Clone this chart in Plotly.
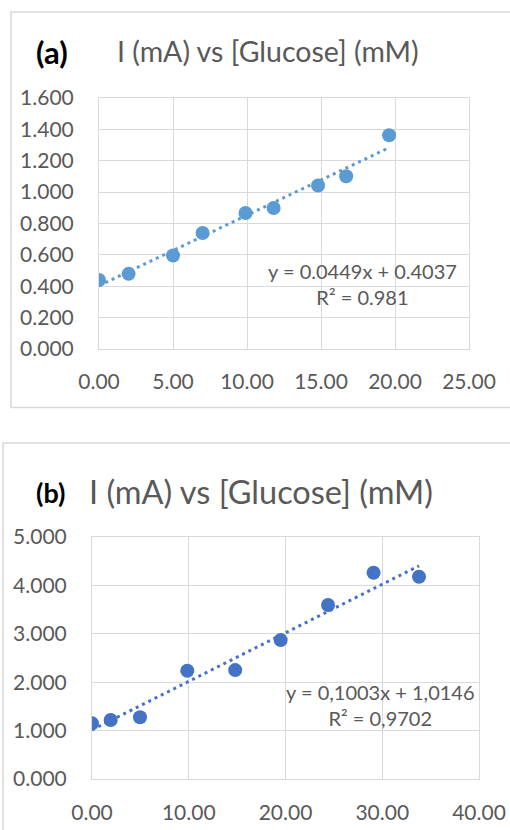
import plotly.graph_objects as go

# Panel (a): current vs glucose concentration
a_glucose = [0, 2, 5, 7, 9.9, 11.8, 14.8, 16.7, 19.6]
a_current = [0.440, 0.479, 0.596, 0.739, 0.867, 0.899, 1.042, 1.101, 1.363]
a_slope, a_intercept, a_r2 = 0.0449, 0.4037, 0.981

# Panel (b): current vs glucose concentration
b_glucose = [0, 1.93, 4.96, 9.85, 14.8, 19.5, 24.4, 29.1, 33.8]
b_current = [1.15, 1.22, 1.275, 2.238, 2.25, 2.87, 3.595, 4.26, 4.18]
b_slope, b_intercept, b_r2 = 0.1003, 1.0146, 0.9702

a_xticks = [0, 5, 10, 15, 20, 25]
a_yticks = [0, 0.2, 0.4, 0.6, 0.8, 1.0, 1.2, 1.4, 1.6]
b_xticks = [0, 10, 20, 30, 40]
b_yticks = [0, 1, 2, 3, 4, 5]

W, H = 510, 830
FONT = "Lato"
GRAY = "#595959"
GRID = "#D9D9D9"
A_COL = "#5B9BD5"
B_COL = "#4472C4"


def px(x):
    return x / W


def py(y):
    return 1 - y / H


def trend(xs, m, c):
    lo, hi = min(xs), max(xs)
    return [lo, hi], [m * lo + c, m * hi + c]


fig = go.Figure()

# scatter + linear trendline, panel (a)
tx, ty = trend(a_glucose, a_slope, a_intercept)
fig.add_trace(go.Scatter(x=tx, y=ty, mode="lines", xaxis="x", yaxis="y",
                         line=dict(color=A_COL, width=3, dash="3px,4px"),
                         showlegend=False, hoverinfo="skip"))
fig.add_trace(go.Scatter(x=a_glucose, y=a_current, mode="markers", xaxis="x", yaxis="y",
                         marker=dict(color=A_COL, size=14), showlegend=False))

# scatter + linear trendline, panel (b)
tx, ty = trend(b_glucose, b_slope, b_intercept)
fig.add_trace(go.Scatter(x=tx, y=ty, mode="lines", xaxis="x2", yaxis="y2",
                         line=dict(color=B_COL, width=3, dash="3px,4px"),
                         showlegend=False, hoverinfo="skip"))
fig.add_trace(go.Scatter(x=b_glucose, y=b_current, mode="markers", xaxis="x2", yaxis="y2",
                         marker=dict(color=B_COL, size=14), showlegend=False))

axis_common = dict(showgrid=True, gridcolor=GRID, gridwidth=1, zeroline=False,
                   showline=True, linecolor=GRID, linewidth=1, mirror=True,
                   ticks="outside", tickcolor="rgba(0,0,0,0)", automargin=False,
                   tickfont=dict(family=FONT, size=21, color=GRAY), fixedrange=True)

fig.update_layout(
    width=W, height=H, autosize=False,
    margin=dict(l=0, r=0, t=0, b=0, pad=0, autoexpand=False),
    paper_bgcolor="white", plot_bgcolor="white",
    xaxis=dict(axis_common, domain=[px(99), px(469)], range=[0, 25],
               tickvals=a_xticks, ticktext=[f"{v:.2f}" for v in a_xticks],
               ticklen=14, anchor="y"),
    yaxis=dict(axis_common, domain=[py(349), py(98)], range=[0, 1.6],
               tickvals=a_yticks, ticktext=[f"{v:.3f}" for v in a_yticks],
               ticklen=20, anchor="x"),
    xaxis2=dict(axis_common, domain=[px(92), px(479)], range=[0, 40],
                tickvals=b_xticks, ticktext=[f"{v:.2f}" for v in b_xticks],
                ticklen=15, anchor="y2"),
    yaxis2=dict(axis_common, domain=[py(779), py(537)], range=[0, 5],
                tickvals=b_yticks, ticktext=[f"{v:.3f}" for v in b_yticks],
                ticklen=20, anchor="x2"),
)

# chart area borders
fig.add_shape(type="rect", xref="paper", yref="paper",
              x0=px(11), x1=px(W + 5), y0=py(407.5), y1=py(12),
              line=dict(color=GRID, width=1.5), fillcolor="rgba(0,0,0,0)", layer="below")
fig.add_shape(type="rect", xref="paper", yref="paper",
              x0=px(3), x1=px(W + 5), y0=py(H + 5), y1=py(443),
              line=dict(color=GRID, width=1.5), fillcolor="rgba(0,0,0,0)", layer="below")

title = "I (mA) vs [Glucose] (mM)"
ann = [
    dict(x=px(34), y=py(52), text="<b>(a)</b>", font=dict(family=FONT, size=31, color="black"),
         xanchor="left", yanchor="middle"),
    dict(x=px(115), y=py(51), text=title, font=dict(family=FONT, size=28.5, color=GRAY),
         xanchor="left", yanchor="middle"),
    dict(x=px(34), y=py(492), text="<b>(b)</b>", font=dict(family=FONT, size=27, color="black"),
         xanchor="left", yanchor="middle"),
    dict(x=px(87), y=py(491), text=title, font=dict(family=FONT, size=32.5, color=GRAY),
         xanchor="left", yanchor="middle"),
    dict(x=px(362), y=py(284),
         text=f"y = {a_slope:.4f}x + {a_intercept:.4f}<br>R² = {a_r2:.3f}",
         font=dict(family=FONT, size=20, color=GRAY), align="center",
         xanchor="center", yanchor="middle"),
    dict(x=px(380), y=py(705),
         text=(f"y = {b_slope:.4f}x + {b_intercept:.4f}<br>R² = {b_r2:.4f}").replace(".", ","),
         font=dict(family=FONT, size=20, color=GRAY), align="center",
         xanchor="center", yanchor="middle"),
]
for a in ann:
    fig.add_annotation(xref="paper", yref="paper", showarrow=False, **a)

fig.write_html("out.html")
